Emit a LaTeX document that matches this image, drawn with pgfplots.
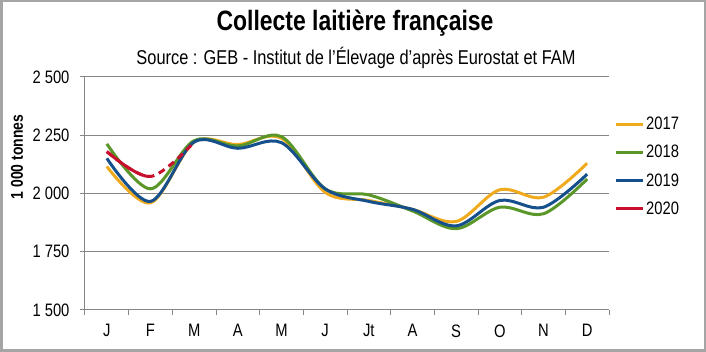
\documentclass[border=0pt]{standalone}
\usepackage{fontspec}
\setmainfont{Liberation Sans}[FakeStretch=0.82]
\usepackage{pgfplots}
\pgfplotsset{compat=1.18}
\definecolor{c17}{RGB}{240,170,30}
\definecolor{c18}{RGB}{90,150,40}
\definecolor{c19}{RGB}{22,80,140}
\definecolor{c20}{RGB}{200,16,46}
\definecolor{gridc}{RGB}{134,134,134}
\definecolor{framec}{RGB}{165,165,165}
\begin{document}
\begin{tikzpicture}
\path[use as bounding box] (0pt,0pt) rectangle (706pt,352pt);
\draw[framec, line width=2.5pt] (1.25pt,1.25pt) rectangle (704.75pt,350.75pt);
\node[font=\bfseries\fontsize{28}{28}\selectfont] at (355pt,329pt) {Collecte laitière française};
\node[font=\fontsize{20}{20}\selectfont] at (356pt,294pt) {Source : GEB - Institut de l'Élevage d'après Eurostat et FAM};
\node[font=\bfseries\fontsize{17}{17}\selectfont, rotate=90] at (17pt,195pt) {1 000 tonnes};
\begin{axis}[
  at={(85pt,42pt)}, anchor=south west, scale only axis,
  width=524pt, height=233pt,
  xmin=-0.5, xmax=11.5, ymin=1500, ymax=2500,
  xtick={0,...,11}, xticklabels={J,F,M,A,M,J,Jt,A,S,O,N,D},
  major x tick style={draw=none},
  minor xtick={-0.5,0.5,...,11.5},
  ytick={1500,1750,2000,2250,2500},
  yticklabels={1 500,1 750,2 000,2 250,2 500},
  ymajorgrids, grid style={gridc, line width=1pt},
  axis x line*=bottom, axis y line*=left,
  axis line style={gridc, line width=1pt, -},
  tick style={gridc, line width=1pt},
  tick align=outside, major tick length=5pt, minor tick length=5pt,
  xticklabel style={font=\fontsize{18}{18}\selectfont, text=black, yshift=-6pt},
  yticklabel style={font=\fontsize{18}{18}\selectfont, text=black, xshift=-7pt},
  legend style={at={(1,0.616)}, anchor=west, xshift=2pt, draw=none, fill=none,
    font=\fontsize{18}{18}\selectfont, row sep=10pt},
  legend cell align=left,
  legend image code/.code={\draw[#1] (0pt,0pt) -- (27pt,0pt);},
  every axis plot/.append style={line width=3pt, smooth, tension=0.55},
  clip=false,
]
\addplot[c17] coordinates {(0,2116) (1,1960) (2,2221) (3,2210) (4,2237) (5,2005) (6,1970) (7,1932) (8,1880) (9,2016) (10,1984) (11,2130)};
\addlegendentry{2017}
\addplot[c18] coordinates {(0,2213) (1,2020) (2,2227) (3,2204) (4,2244) (5,2020) (6,1994) (7,1925) (8,1849) (9,1941) (10,1913) (11,2062)};
\addlegendentry{2018}
\addplot[c19] coordinates {(0,2151) (1,1966) (2,2221) (3,2194) (4,2218) (5,2020) (6,1966) (7,1932) (8,1861) (9,1970) (10,1941) (11,2083)};
\addlegendentry{2019}
\addplot[c20, dash pattern=on 7pt off 5pt, forget plot] coordinates {(0,2180) (1,2073) (2,2220)};
\addplot[c20, dash pattern=on 51pt off 600pt] coordinates {(0,2180) (1,2073) (2,2220)};
\addlegendentry{2020}
\end{axis}
\end{tikzpicture}
\end{document}
